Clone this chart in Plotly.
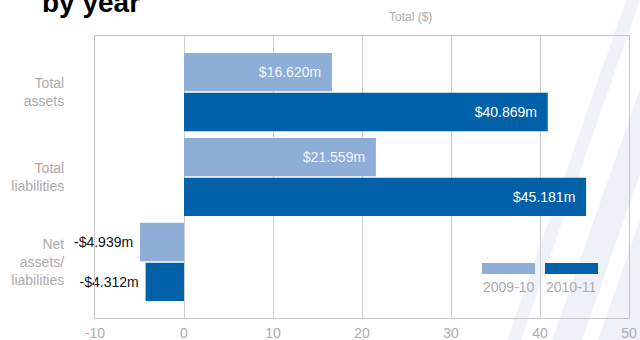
import plotly.graph_objects as go

# Data ($ millions)
categories = ["Total<br>assets", "Total<br>liabilities", "Net<br>assets/<br>liabilities"]
years = ["2009-10", "2010-11"]
values_2009_10 = [16.620, 21.559, -4.939]
values_2010_11 = [40.869, 45.181, -4.312]
x_ticks = [-10, 0, 10, 20, 30, 40, 50]

LIGHT = "#8eaed7"
DARK = "#0060a8"
GREY_TEXT = "#ababab"
FONT = "Arial, Liberation Sans, sans-serif"

# Plot area in page pixels (640 x 340 page)
L, R, T, B = 95, 629, 36, 318
W, H = 640, 340


def px(x):
    return (x - L) / (R - L)


def py(y):
    return (B - y) / (B - T)


def fmt(v):
    return f"-${abs(v):.3f}m" if v < 0 else f"${v:.3f}m"


def labels(vals):
    return [fmt(v) + "\u00a0\u00a0" if v >= 0 else fmt(v) + "\u00a0" for v in vals]


def positions(vals):
    return ["inside" if v >= 0 else "outside" for v in vals]


def text_colors(vals, inside_color):
    return [inside_color if v >= 0 else "#111111" for v in vals]


fig = go.Figure()
for name, vals, color, tcol in [
    (years[0], values_2009_10, LIGHT, "#f4f7fc"),
    (years[1], values_2010_11, DARK, "#ffffff"),
]:
    fig.add_trace(go.Bar(
        y=categories, x=vals, name=name, orientation="h",
        marker=dict(color=color, line=dict(width=0)),
        text=labels(vals), textposition=positions(vals),
        insidetextanchor="end",
        textfont=dict(family=FONT, size=14, color=text_colors(vals, tcol)),
        cliponaxis=False, showlegend=False, hoverinfo="skip",
    ))

shapes = []
# Decorative diagonal bands behind the chart
slope = 0.35
bands = [(507, 521, "rgba(226,231,244,0.55)"),
         (552, 582, "rgba(226,231,244,0.6)"),
         (598, 720, "rgba(226,231,244,0.6)")]
for x0, x1, col in bands:
    pts = [(x0, 340), (x1, 340), (x1 + slope * 340, 0), (x0 + slope * 340, 0)]
    path = "M " + " L ".join(f"{px(a):.4f},{py(b):.4f}" for a, b in pts) + " Z"
    shapes.append(dict(type="path", path=path, xref="paper", yref="paper",
                       fillcolor=col, line=dict(width=0), layer="below"))

# Legend swatches (swatch above label)
legend_items = [(years[0], LIGHT, 482, 535), (years[1], DARK, 545, 598)]
annotations = []
for name, col, x0, x1 in legend_items:
    shapes.append(dict(type="rect", xref="paper", yref="paper",
                       x0=px(x0), x1=px(x1), y0=py(274), y1=py(263),
                       fillcolor=col, line=dict(width=0), layer="above"))
    annotations.append(dict(text=name, xref="paper", yref="paper",
                            x=px((x0 + x1) / 2), y=py(287), xanchor="center",
                            yanchor="middle", showarrow=False,
                            font=dict(family=FONT, size=14, color=GREY_TEXT)))

annotations.append(dict(text="Total ($)", xref="paper", yref="paper",
                        x=px(410), y=py(17), xanchor="center", yanchor="middle",
                        showarrow=False,
                        font=dict(family=FONT, size=12, color=GREY_TEXT)))
annotations.append(dict(text="<b>by year</b>", xref="paper", yref="paper",
                        x=px(40), y=py(20), xanchor="left", yanchor="bottom",
                        showarrow=False,
                        font=dict(family=FONT, size=28, color="#000000")))

fig.update_layout(
    width=W, height=H,
    margin=dict(l=L, r=W - R, t=T, b=H - B, pad=0, autoexpand=False),
    paper_bgcolor="white", plot_bgcolor="rgba(0,0,0,0)",
    barmode="group", bargap=0.06, bargroupgap=0.04,
    font=dict(family=FONT, size=14, color=GREY_TEXT),
    shapes=shapes, annotations=annotations,
)
fig.update_xaxes(range=[-10, 50], tickvals=x_ticks,
                 ticktext=[str(t) for t in x_ticks], automargin=False,
                 showgrid=True, gridcolor="#cfcfcf", gridwidth=1,
                 zeroline=True, zerolinecolor="#cfcfcf", zerolinewidth=1,
                 showline=True, linecolor="#c4c4c4", linewidth=1, mirror=True,
                 ticks="", ticklabelstandoff=2,
                 tickfont=dict(size=14, color=GREY_TEXT), fixedrange=True)
fig.update_yaxes(range=[2.66, -0.66], automargin=False, showgrid=False,
                 zeroline=False, showline=True, linecolor="#c4c4c4",
                 linewidth=1, mirror=True, ticks="", ticklabelstandoff=27,
                 tickfont=dict(size=14, color=GREY_TEXT), fixedrange=True)

fig.write_html("out.html", config=dict(displayModeBar=False))
